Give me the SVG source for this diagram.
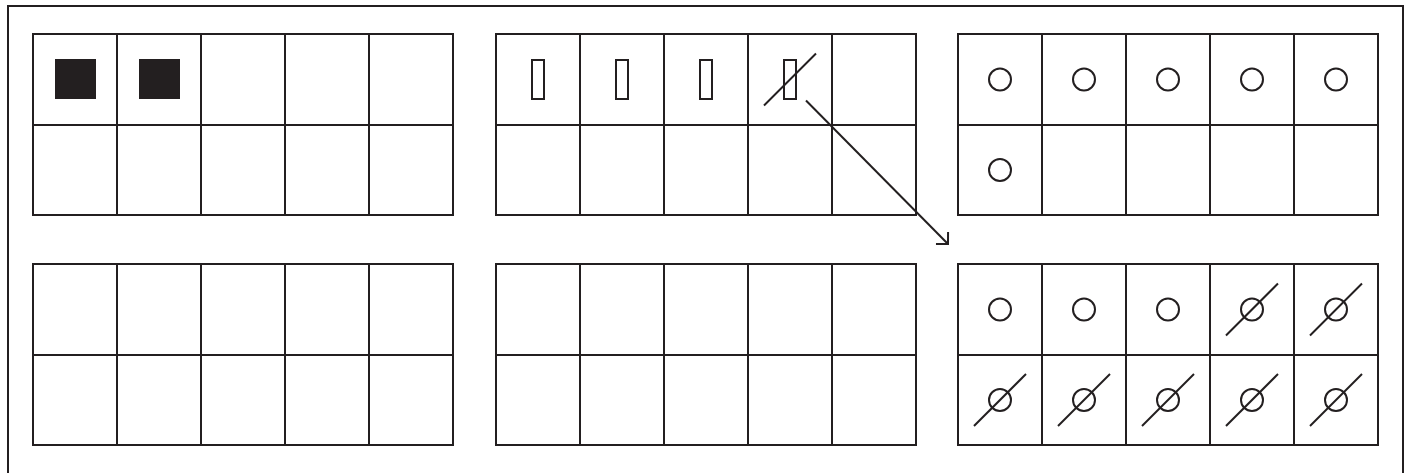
<svg xmlns="http://www.w3.org/2000/svg" width="1412" height="473" viewBox="0 0 1412 473">
<style>
.ln{fill:none;stroke:#231f20;stroke-width:2}
.blk{fill:#231f20;stroke:none}
.cell{fill:#fff;stroke:#231f20;stroke-width:2}
</style>
<defs>
<g id="grid">
<rect class="ln" x="0" y="0" width="420" height="181"/>
<line class="ln" x1="0" y1="91" x2="420" y2="91"/>
<line class="ln" x1="84" y1="0" x2="84" y2="181"/>
<line class="ln" x1="168" y1="0" x2="168" y2="181"/>
<line class="ln" x1="252" y1="0" x2="252" y2="181"/>
<line class="ln" x1="336" y1="0" x2="336" y2="181"/>
</g>
<g id="circ"><circle class="ln" cx="0" cy="0" r="11"/></g>
<g id="slash"><line class="ln" x1="-26" y1="26" x2="26" y2="-26"/></g>
<g id="bar"><rect class="ln" x="-6" y="-19.5" width="12" height="39"/></g>
<marker id="arr" markerWidth="20" markerHeight="20" refX="14" refY="10" orient="auto" markerUnits="userSpaceOnUse" viewBox="0 0 20 20">
<path d="M5.5,1.5 L14,10 L5.5,18.5" fill="none" stroke="#231f20" stroke-width="2"/>
</marker>
</defs>
<rect x="0" y="0" width="1412" height="473" fill="#fff"/>
<rect id="frame" class="ln" x="8" y="6" width="1395" height="490"/>

<g id="grid-top-left">
<use href="#grid" x="33" y="34"/>
<rect class="blk" x="55" y="59" width="41" height="40"/>
<rect class="blk" x="139" y="59" width="41" height="40"/>
</g>

<g id="grid-top-middle">
<use href="#grid" x="496" y="34"/>
<use href="#bar" x="538" y="79.5"/>
<use href="#bar" x="622" y="79.5"/>
<use href="#bar" x="706" y="79.5"/>
<use href="#bar" x="790" y="79.5"/>
<use href="#slash" x="790" y="79.5"/>
</g>

<g id="grid-top-right">
<use href="#grid" x="958" y="34"/>
<use href="#circ" x="1000" y="79.5"/>
<use href="#circ" x="1084" y="79.5"/>
<use href="#circ" x="1168" y="79.5"/>
<use href="#circ" x="1252" y="79.5"/>
<use href="#circ" x="1336" y="79.5"/>
<use href="#circ" x="1000" y="170"/>
</g>

<g id="grid-bottom-left">
<use href="#grid" x="33" y="264"/>
</g>

<g id="grid-bottom-middle">
<use href="#grid" x="496" y="264"/>
</g>

<g id="grid-bottom-right">
<use href="#grid" x="958" y="264"/>
<use href="#circ" x="1000" y="309.5"/>
<use href="#circ" x="1084" y="309.5"/>
<use href="#circ" x="1168" y="309.5"/>
<use href="#circ" x="1252" y="309.5"/>
<use href="#slash" x="1252" y="309.5"/>
<use href="#circ" x="1336" y="309.5"/>
<use href="#slash" x="1336" y="309.5"/>
<use href="#circ" x="1000" y="400"/>
<use href="#slash" x="1000" y="400"/>
<use href="#circ" x="1084" y="400"/>
<use href="#slash" x="1084" y="400"/>
<use href="#circ" x="1168" y="400"/>
<use href="#slash" x="1168" y="400"/>
<use href="#circ" x="1252" y="400"/>
<use href="#slash" x="1252" y="400"/>
<use href="#circ" x="1336" y="400"/>
<use href="#slash" x="1336" y="400"/>
</g>

<g id="connectors">
<line class="ln" x1="806" y1="100.5" x2="948" y2="244" marker-end="url(#arr)"/>
</g>
</svg>
